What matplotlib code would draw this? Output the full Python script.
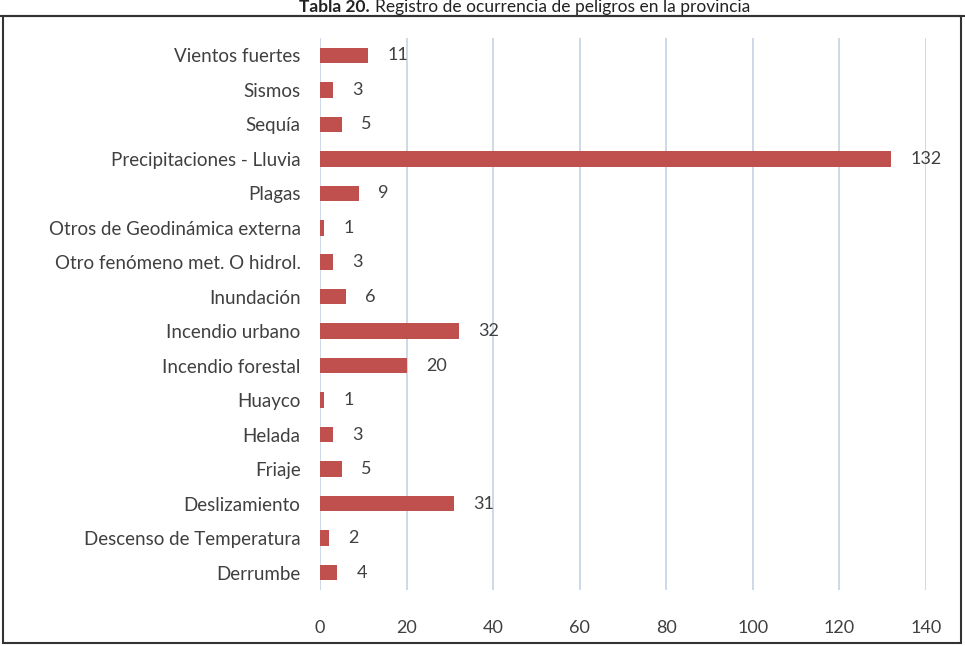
import matplotlib.pyplot as plt
from matplotlib.patches import Rectangle
from matplotlib.lines import Line2D

plt.rcParams['font.family'] = ['Lato', 'DejaVu Sans']

# categories from top to bottom as in the picture
categorias = ["Vientos fuertes", "Sismos", "Sequía", "Precipitaciones - Lluvia", "Plagas",
              "Otros de Geodinámica externa", "Otro fenómeno met. O hidrol.", "Inundación",
              "Incendio urbano", "Incendio forestal", "Huayco", "Helada", "Friaje",
              "Deslizamiento", "Descenso de Temperatura", "Derrumbe"]
valores = [11, 3, 5, 132, 9, 1, 3, 6, 32, 20, 1, 3, 5, 31, 2, 4]
ticks_x = [0, 20, 40, 60, 80, 100, 120, 140]

fig = plt.figure(figsize=(9.65, 6.46), dpi=100)
ax = fig.add_axes([0.3316, 0.087, 0.628, 0.854])

pos = list(range(len(categorias)))
ax.barh(pos, valores, height=0.45, color="#C0504D", zorder=3)
for p, v in zip(pos, valores):
    ax.text(v + 4.5, p, str(v), va="center", ha="left", fontsize=13, color="#404040")

ax.set_ylim(len(categorias) - 0.5, -0.5)
ax.set_xlim(0, 140)
ax.set_yticks(pos)
ax.set_yticklabels(categorias, fontsize=13.5, color="#404040")
ax.set_xticks(ticks_x)
ax.set_xticklabels([str(t) for t in ticks_x], fontsize=13, color="#404040")
ax.tick_params(axis="both", length=0)
ax.tick_params(axis="x", pad=22)
ax.tick_params(axis="y", pad=14)
ax.grid(axis="x", color="#C5D3E6", linewidth=1.2, zorder=0)
for s in ax.spines.values():
    s.set_visible(False)

# title (bold part + normal part) and frame
t1 = fig.text(0.31, 1 - 7 / 646, "Tabla 20.", fontsize=12.5, fontweight="bold", va="center",
              ha="left", color="#222222")
ax.annotate("Registro de ocurrencia de peligros en la provincia", xy=(1, 0.5), xycoords=t1,
            xytext=(4, 0), textcoords="offset points", fontsize=12.5, va="center", ha="left",
            color="#222222", annotation_clip=False)
fig.add_artist(Line2D([0, 1], [1 - 16 / 646, 1 - 16 / 646], transform=fig.transFigure,
                      color="#333333", linewidth=1.5))
fig.add_artist(Rectangle((3 / 965, 3 / 646), 958 / 965, 1 - 19 / 646, transform=fig.transFigure,
                         fill=False, edgecolor="#333333", linewidth=1.5))

fig.savefig("out.png", dpi=100)
